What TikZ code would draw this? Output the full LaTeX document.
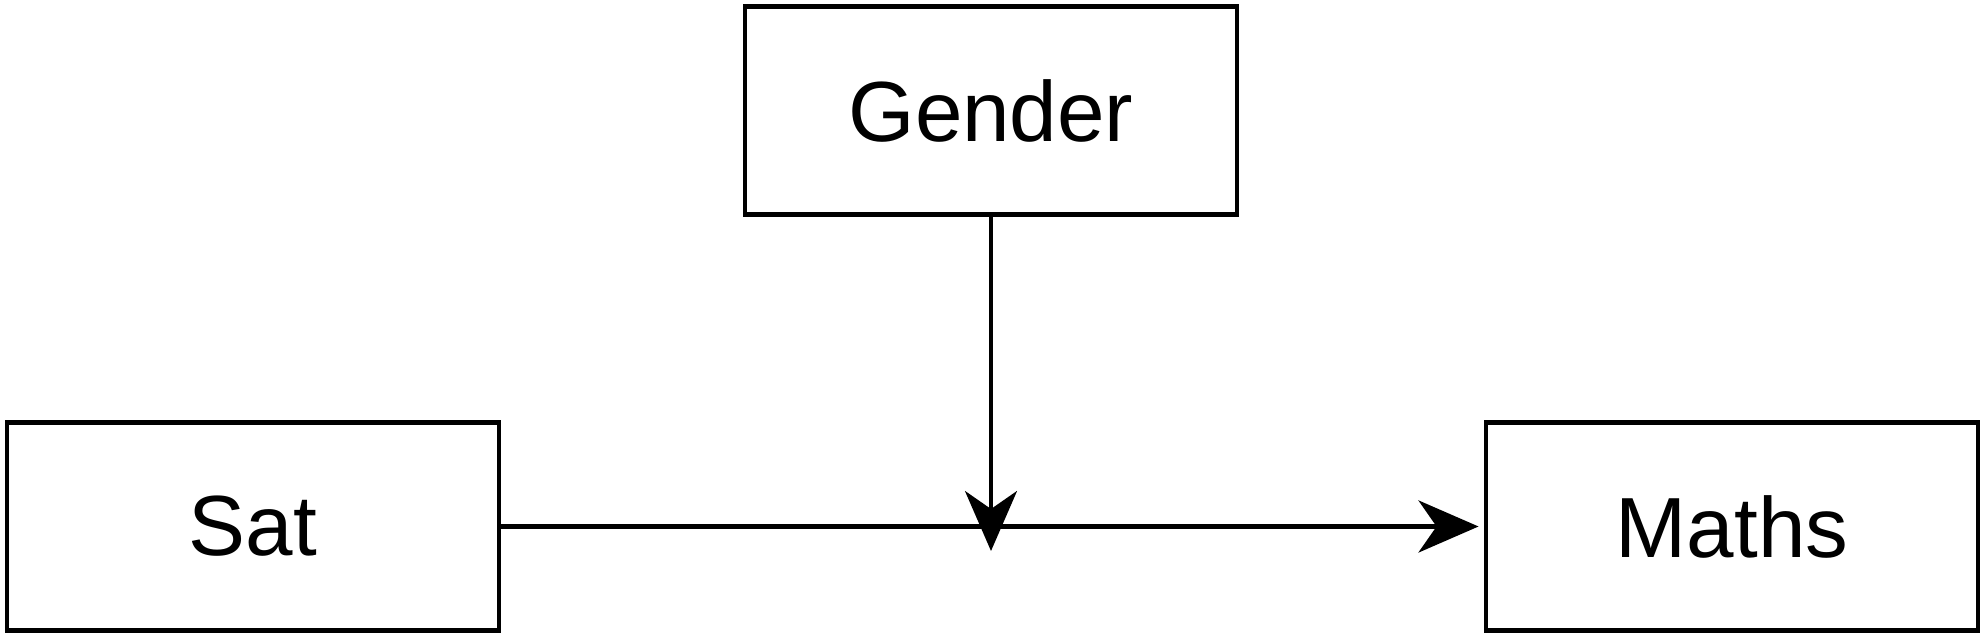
\documentclass[tikz,border=0pt]{standalone}
\usepackage{fontspec}
\setmainfont{Liberation Sans}
\usetikzlibrary{arrows.meta}
\tikzstyle{box}=[draw,line width=1.4pt,rectangle,minimum width=4.92cm,minimum height=2.08cm,inner sep=0pt,font=\fontsize{24.3pt}{29pt}\selectfont]
\tikzstyle{link} = [draw,line width=1.3pt,-{Stealth[length=6mm,width=5.2mm,inset=1.8mm]}]

\begin{document}
\begin{tikzpicture}[scale=1, auto,swap]
    \useasboundingbox (0,0) rectangle (19.85,6.38);
    % boites
    \foreach \pos/\name/\text in {{(9.91,5.275)/gender/Gender}, {(2.53,1.115)/sat/Sat}, {(17.32,1.115)/maths/Maths}}
        \node[box] (\name) at \pos {\text};
    \coordinate (meet) at (9.91,0.87);
    % fleches
    \path[link,shorten >=0.05cm] (sat) -- (maths);
    \path[link,line width=1pt] (gender) -- (meet);
\end{tikzpicture}
\end{document}
